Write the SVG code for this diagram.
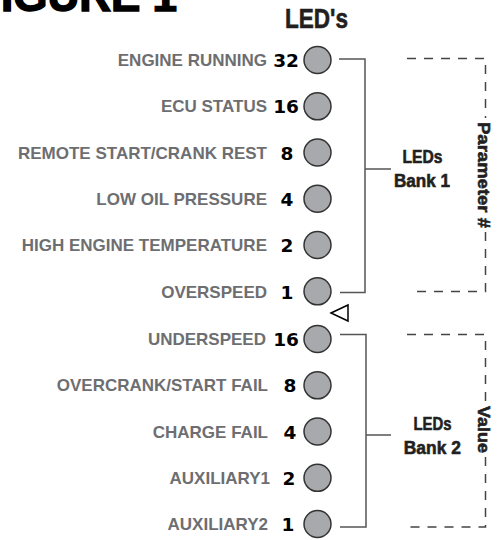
<svg xmlns="http://www.w3.org/2000/svg" width="500" height="540" viewBox="0 0 500 540">
<style>
.lbl{font-family:"Liberation Sans",Arial,sans-serif;font-weight:bold;font-size:17px;fill:#6d6e71;text-anchor:end}
.num{font-family:"DejaVu Sans",sans-serif;font-weight:bold;font-size:18.5px;fill:#000;text-anchor:middle}
.led{fill:#a7a9ac;stroke:#333;stroke-width:1.5}
.conn{fill:none;stroke:#555;stroke-width:1.5}
.dash{fill:none;stroke:#444;stroke-width:1.5;stroke-dasharray:9 8}
.cond{font-family:"Liberation Sans",Arial,sans-serif;font-weight:bold;fill:#231f20;stroke:#231f20;stroke-width:0.6;text-anchor:middle}
</style>
<rect width="500" height="540" fill="#fff"/>
<text x="177" y="11" font-family="Liberation Sans,Arial,sans-serif" font-weight="bold" font-size="44" fill="#000" stroke="#000" stroke-width="1.5" text-anchor="end">FIGURE 1</text>
<text x="316.5" y="28" class="cond" font-size="28" textLength="63" lengthAdjust="spacingAndGlyphs">LED's</text>

<g id="led-engine-running"><text class="lbl" x="267" y="66">ENGINE RUNNING</text><text class="num" x="286" y="67">32</text><circle class="led" cx="317.5" cy="60" r="13.5"/></g>
<g id="led-ecu-status"><text class="lbl" x="267" y="112">ECU STATUS</text><text class="num" x="286" y="113">16</text><circle class="led" cx="317.5" cy="106.3" r="13.5"/></g>
<g id="led-remote-start"><text class="lbl" x="267" y="158.5">REMOTE START/CRANK REST</text><text class="num" x="287" y="159.5">8</text><circle class="led" cx="317.5" cy="152.5" r="13.5"/></g>
<g id="led-low-oil"><text class="lbl" x="267" y="204.7">LOW OIL PRESSURE</text><text class="num" x="287" y="205.7">4</text><circle class="led" cx="317.5" cy="198.7" r="13.5"/></g>
<g id="led-high-temp"><text class="lbl" x="267" y="251">HIGH ENGINE TEMPERATURE</text><text class="num" x="287" y="252">2</text><circle class="led" cx="317.5" cy="245" r="13.5"/></g>
<g id="led-overspeed"><text class="lbl" x="267" y="297.5">OVERSPEED</text><text class="num" x="287" y="298.5">1</text><circle class="led" cx="317.5" cy="291.3" r="13.5"/></g>

<g id="led-underspeed"><text class="lbl" x="266" y="345">UNDERSPEED</text><text class="num" x="286" y="346">16</text><circle class="led" cx="317.5" cy="339" r="13.5"/></g>
<g id="led-overcrank"><text class="lbl" x="268" y="391.3">OVERCRANK/START FAIL</text><text class="num" x="290" y="392.3">8</text><circle class="led" cx="317.5" cy="385.3" r="13.5"/></g>
<g id="led-charge-fail"><text class="lbl" x="268" y="437.5">CHARGE FAIL</text><text class="num" x="290" y="438.5">4</text><circle class="led" cx="317.5" cy="431.5" r="13.5"/></g>
<g id="led-auxiliary1"><text class="lbl" x="270" y="483.8">AUXILIARY1</text><text class="num" x="289" y="484.8">2</text><circle class="led" cx="317.5" cy="477.8" r="13.5"/></g>
<g id="led-auxiliary2"><text class="lbl" x="268" y="530">AUXILIARY2</text><text class="num" x="288" y="531">1</text><circle class="led" cx="317.5" cy="524" r="13.5"/></g>

<polygon id="pointer" points="331,313 348,305 348,321" fill="#fff" stroke="#000" stroke-width="1.5"/>

<g id="connectors">
<path class="conn" d="M339,59 H365 V292.5 H340 M365,169 H391"/>
<path class="conn" d="M340,334.5 H366 V527 H340 M366,435 H391"/>
</g>

<g id="bank1">
<text class="cond" x="422.5" y="163" font-size="18" textLength="40" lengthAdjust="spacingAndGlyphs">LEDs</text>
<text class="cond" x="422" y="187" font-size="18" textLength="56" lengthAdjust="spacingAndGlyphs">Bank 1</text>
</g>
<g id="bank2">
<text class="cond" x="432.5" y="430" font-size="18" textLength="38" lengthAdjust="spacingAndGlyphs">LEDs</text>
<text class="cond" x="432.3" y="454" font-size="18" textLength="57" lengthAdjust="spacingAndGlyphs">Bank 2</text>
</g>

<g id="parameter-box">
<path class="dash" d="M407,58.5 H485.5 V118"/>
<path class="dash" d="M485.5,232 V291.5 H411"/>
<text class="cond" transform="translate(478,175) rotate(90)" font-size="16.5" textLength="106" lengthAdjust="spacingAndGlyphs">Parameter #</text>
</g>
<g id="value-box">
<path class="dash" d="M407,334.5 H485.5 V402"/>
<path class="dash" d="M485.5,457 V527 H408"/>
<text class="cond" transform="translate(478,429.5) rotate(90)" font-size="16.5" textLength="47" lengthAdjust="spacingAndGlyphs">Value</text>
</g>
</svg>
